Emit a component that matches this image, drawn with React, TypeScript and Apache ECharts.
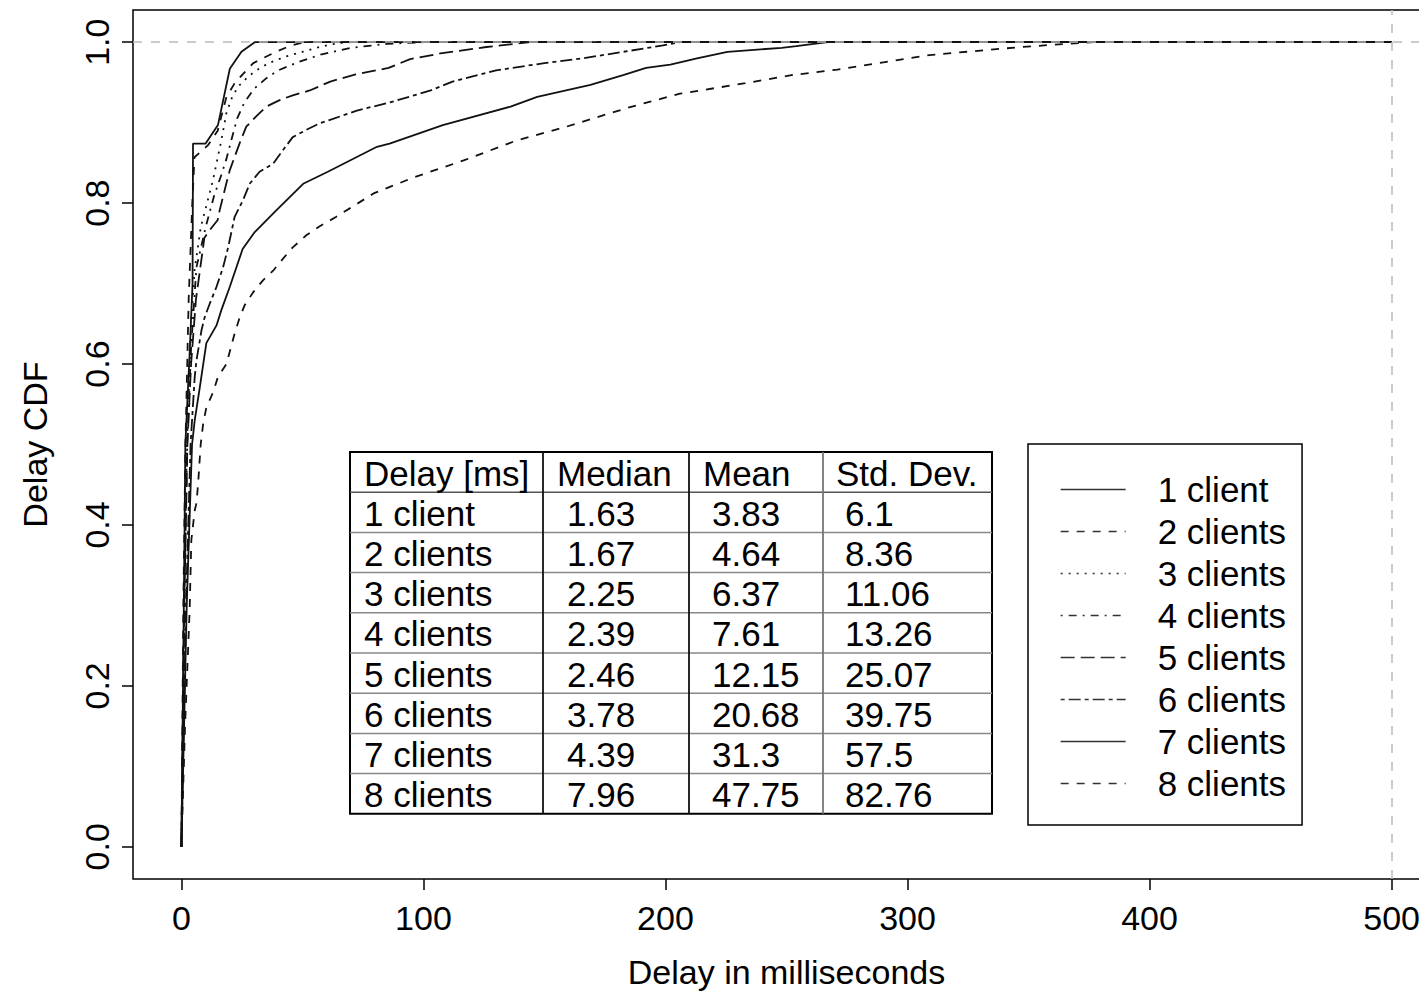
import React, { useEffect, useRef } from "react";
import * as echarts from "echarts";

const FONT = "Liberation Sans, Arial, sans-serif";

const seriesNames = ["1 client", "2 clients", "3 clients", "4 clients", "5 clients", "6 clients", "7 clients", "8 clients"];

const client1 = [[0, 0], [1, 0.3], [1.63, 0.5], [3.5, 0.62], [4.6, 0.7], [4.8, 0.874], [10, 0.874], [15.1, 0.897], [20, 0.967], [24.8, 0.988], [30.3, 1], [500, 1]];
const client2 = [[0, 0], [0.8, 0.3], [1.67, 0.5], [3, 0.68], [4.5, 0.8], [5.4, 0.857], [11, 0.872], [15, 0.89], [18.6, 0.932], [22, 0.949], [25.6, 0.961], [29.7, 0.974], [34.3, 0.981], [39, 0.988], [45.4, 0.996], [51, 1], [500, 1]];
const client3 = [[0, 0], [1.1, 0.3], [2.25, 0.5], [4, 0.65], [5.4, 0.716], [8, 0.77], [13, 0.828], [16.5, 0.878], [18.6, 0.912], [21, 0.932], [23.5, 0.945], [27.5, 0.957], [31, 0.965], [36, 0.974], [43, 0.982], [50, 0.988], [57, 0.994], [65, 0.999], [70, 1], [500, 1]];
const client4 = [[0, 0], [1.2, 0.3], [2.39, 0.5], [4, 0.62], [6.2, 0.72], [10, 0.77], [13.6, 0.81], [16.5, 0.835], [18.6, 0.855], [20.6, 0.878], [23, 0.905], [26, 0.925], [30, 0.942], [35, 0.955], [40, 0.965], [48, 0.975], [58, 0.985], [70, 0.993], [85, 0.998], [100, 1], [500, 1]];
const client5 = [[0, 0], [1.2, 0.3], [2.46, 0.5], [4, 0.6], [6, 0.68], [9.5, 0.757], [11.6, 0.766], [15, 0.779], [15.8, 0.791], [18.6, 0.825], [20, 0.841], [24, 0.874], [26.8, 0.895], [31, 0.908], [35.1, 0.92], [40.6, 0.928], [46, 0.934], [53, 0.94], [61.5, 0.951], [72, 0.96], [85.6, 0.968], [94.5, 0.979], [107, 0.986], [126, 0.994], [144, 1], [500, 1]];
const client6 = [[0, 0], [1.9, 0.3], [3.78, 0.5], [5.5, 0.584], [6.2, 0.604], [8.3, 0.642], [9.6, 0.658], [11.7, 0.675], [14.5, 0.696], [17.2, 0.72], [19.3, 0.745], [22, 0.783], [25.5, 0.804], [28.2, 0.824], [32.3, 0.839], [37.9, 0.849], [42, 0.866], [46, 0.882], [51.6, 0.891], [57, 0.899], [62, 0.904], [72.5, 0.915], [86, 0.925], [103, 0.94], [112, 0.951], [130, 0.965], [150, 0.974], [166, 0.98], [182.5, 0.988], [199, 0.996], [206, 1], [500, 1]];
const client7 = [[0, 0], [2.2, 0.3], [4.39, 0.5], [5.5, 0.53], [7.6, 0.571], [10.3, 0.626], [14.5, 0.648], [16.5, 0.667], [20, 0.696], [25.3, 0.743], [30.3, 0.764], [39.2, 0.791], [50.3, 0.824], [60.5, 0.839], [80.8, 0.87], [86, 0.874], [108, 0.897], [136, 0.92], [147, 0.932], [169, 0.947], [182.5, 0.959], [192, 0.968], [202, 0.972], [213, 0.98], [225.6, 0.988], [248, 0.993], [254, 0.995], [267, 1], [500, 1]];
const client8 = [[0, 0], [1.5, 0.15], [3.4, 0.294], [4.1, 0.381], [5.5, 0.418], [6.2, 0.427], [6.9, 0.451], [7.96, 0.5], [9, 0.526], [10.3, 0.546], [13.1, 0.565], [15.1, 0.584], [18.6, 0.6], [22, 0.638], [24.1, 0.658], [26.1, 0.673], [29.6, 0.689], [33.7, 0.704], [37.9, 0.716], [42, 0.731], [46, 0.745], [51.6, 0.76], [57, 0.771], [64, 0.783], [79.4, 0.812], [96, 0.832], [116.6, 0.853], [138.6, 0.878], [158, 0.894], [185, 0.919], [206, 0.936], [233, 0.949], [252, 0.959], [271, 0.966], [290, 0.975], [309, 0.984], [328, 0.989], [347, 0.994], [366, 0.998], [377, 1], [500, 1]];

const seriesData = [client1, client2, client3, client4, client5, client6, client7, client8];

const tableHeader = ["Delay [ms]", "Median", "Mean", "Std. Dev."];
const tableRowLabels = seriesNames;
const medians = ["1.63", "1.67", "2.25", "2.39", "2.46", "3.78", "4.39", "7.96"];
const means = ["3.83", "4.64", "6.37", "7.61", "12.15", "20.68", "31.3", "47.75"];
const stdDevs = ["6.1", "8.36", "11.06", "13.26", "25.07", "39.75", "57.5", "82.76"];

const xTicks = [0, 100, 200, 300, 400, 500];
const yTicks = [0, 0.2, 0.4, 0.6, 0.8, 1.0];

// R line types: solid, dashed, dotted, dotdash, longdash, twodash, solid, dashed
const dashStyles: any[] = ["solid", [8, 8], [2, 6], [2, 6, 8, 6], [14, 6], [4, 4, 12, 4], "solid", [8, 8]];

function buildTable() {
  const left = 350;
  const top = 452;
  const rowH = 40.2;
  const cols = [350, 543, 689, 823, 992];
  const nRows = tableRowLabels.length + 1;
  const bottom = top + rowH * nRows;
  const children: any[] = [];
  children.push({
    type: "rect",
    shape: { x: left, y: top, width: cols[4] - left, height: bottom - top },
    style: { fill: "#fff", stroke: "#000", lineWidth: 2 },
    z: 10,
  });
  for (let r = 1; r < nRows; r++) {
    const y = top + rowH * r;
    children.push({
      type: "line",
      shape: { x1: left, y1: y, x2: cols[4], y2: y },
      style: { stroke: r === 1 ? "#555" : "#888", lineWidth: 1.5 },
      z: 11,
    });
  }
  for (let c = 1; c < 4; c++) {
    children.push({
      type: "line",
      shape: { x1: cols[c], y1: top, x2: cols[c], y2: bottom },
      style: { stroke: c === 3 ? "#777" : "#111", lineWidth: 1.8 },
      z: 11,
    });
  }
  const headerOff = [14, 14, 14, 13];
  const valueOff = [14, 24, 23, 22];
  const textStyle = (t: string, x: number, y: number) => ({
    type: "text",
    x,
    y,
    z: 12,
    style: { text: t, fontSize: 35, fontFamily: FONT, fill: "#000", textAlign: "left", textVerticalAlign: "middle" },
  });
  tableHeader.forEach((h, c) => {
    children.push(textStyle(h, cols[c] + headerOff[c], top + rowH / 2 + 1));
  });
  const colsData = [tableRowLabels, medians, means, stdDevs];
  for (let r = 0; r < tableRowLabels.length; r++) {
    const cy = top + rowH * (r + 1) + rowH / 2 + 1;
    colsData.forEach((arr, c) => {
      children.push(textStyle(arr[r], cols[c] + valueOff[c], cy));
    });
  }
  return children;
}

export default function App() {
  const ref = useRef<HTMLDivElement>(null);
  useEffect(() => {
    document.body.style.margin = "0";
    const chart = echarts.init(ref.current!, null, { renderer: "svg" });
    const lineSeries = seriesData.map((d, i) => ({
      name: seriesNames[i],
      type: "line",
      data: d,
      symbol: "none",
      showSymbol: false,
      z: 3,
      lineStyle: { color: "#111", width: 1.8, type: dashStyles[i] },
      itemStyle: { color: "#111" },
      emphasis: { disabled: true },
    }));
    const option: any = {
      animation: false,
      backgroundColor: "#fff",
      textStyle: { fontFamily: FONT },
      grid: {
        left: 133,
        top: 10,
        width: 1307,
        height: 869,
        outerBoundsMode: "none",
        containLabel: false,
        show: true,
        borderColor: "#000",
        borderWidth: 1.5,
        backgroundColor: "transparent",
      },
      xAxis: {
        type: "value",
        min: -20,
        max: 520,
        name: "Delay in milliseconds",
        nameLocation: "middle",
        nameGap: 76,
        nameTextStyle: { fontSize: 34, color: "#000", fontFamily: FONT },
        axisLine: { show: false, onZero: false },
        splitLine: { show: false },
        axisTick: { show: true, inside: false, customValues: xTicks, length: 11, lineStyle: { color: "#000", width: 1.5 } },
        axisLabel: { customValues: xTicks, fontSize: 34, color: "#000", fontFamily: FONT, margin: 22 },
      },
      yAxis: {
        type: "value",
        min: -0.04,
        max: 1.04,
        name: "Delay CDF",
        nameLocation: "middle",
        nameGap: 81,
        nameTextStyle: { fontSize: 34, color: "#000", fontFamily: FONT },
        axisLine: { show: false, onZero: false },
        splitLine: { show: false },
        axisTick: { show: true, inside: false, customValues: yTicks, length: 11, lineStyle: { color: "#000", width: 1.5 } },
        axisLabel: {
          customValues: yTicks,
          rotate: 90,
          fontSize: 34,
          color: "#000",
          fontFamily: FONT,
          margin: 19,
          formatter: (v: number) => v.toFixed(1),
        },
      },
      legend: {
        data: seriesNames,
        orient: "vertical",
        left: 1028,
        top: 444,
        padding: [28, 16, 24, 32],
        itemWidth: 65,
        itemHeight: 20,
        itemGap: 7,
        borderColor: "#000",
        borderWidth: 1.5,
        backgroundColor: "#fff",
        selectedMode: false,
        itemStyle: { color: "rgba(0,0,0,0)", borderWidth: 0, borderColor: "rgba(0,0,0,0)" },
        lineStyle: { width: 1.3, color: "#333" },
        textStyle: { fontSize: 35, fontFamily: FONT, color: "#000", lineHeight: 35, padding: [0, 0, 0, 27] },
      },
      graphic: { elements: buildTable() },
      series: [
        {
          name: "refLines",
          type: "line",
          data: [],
          z: 1,
          silent: true,
          markLine: {
            silent: true,
            symbol: "none",
            label: { show: false },
            lineStyle: { color: "#bbb", type: [9, 9], width: 1.5 },
            data: [{ yAxis: 1 }, { xAxis: 500 }],
          },
        },
        ...lineSeries,
      ],
    };
    chart.setOption(option);
    return () => chart.dispose();
  }, []);
  return <div ref={ref} style={{ width: 1419, height: 991 }} />;
}
